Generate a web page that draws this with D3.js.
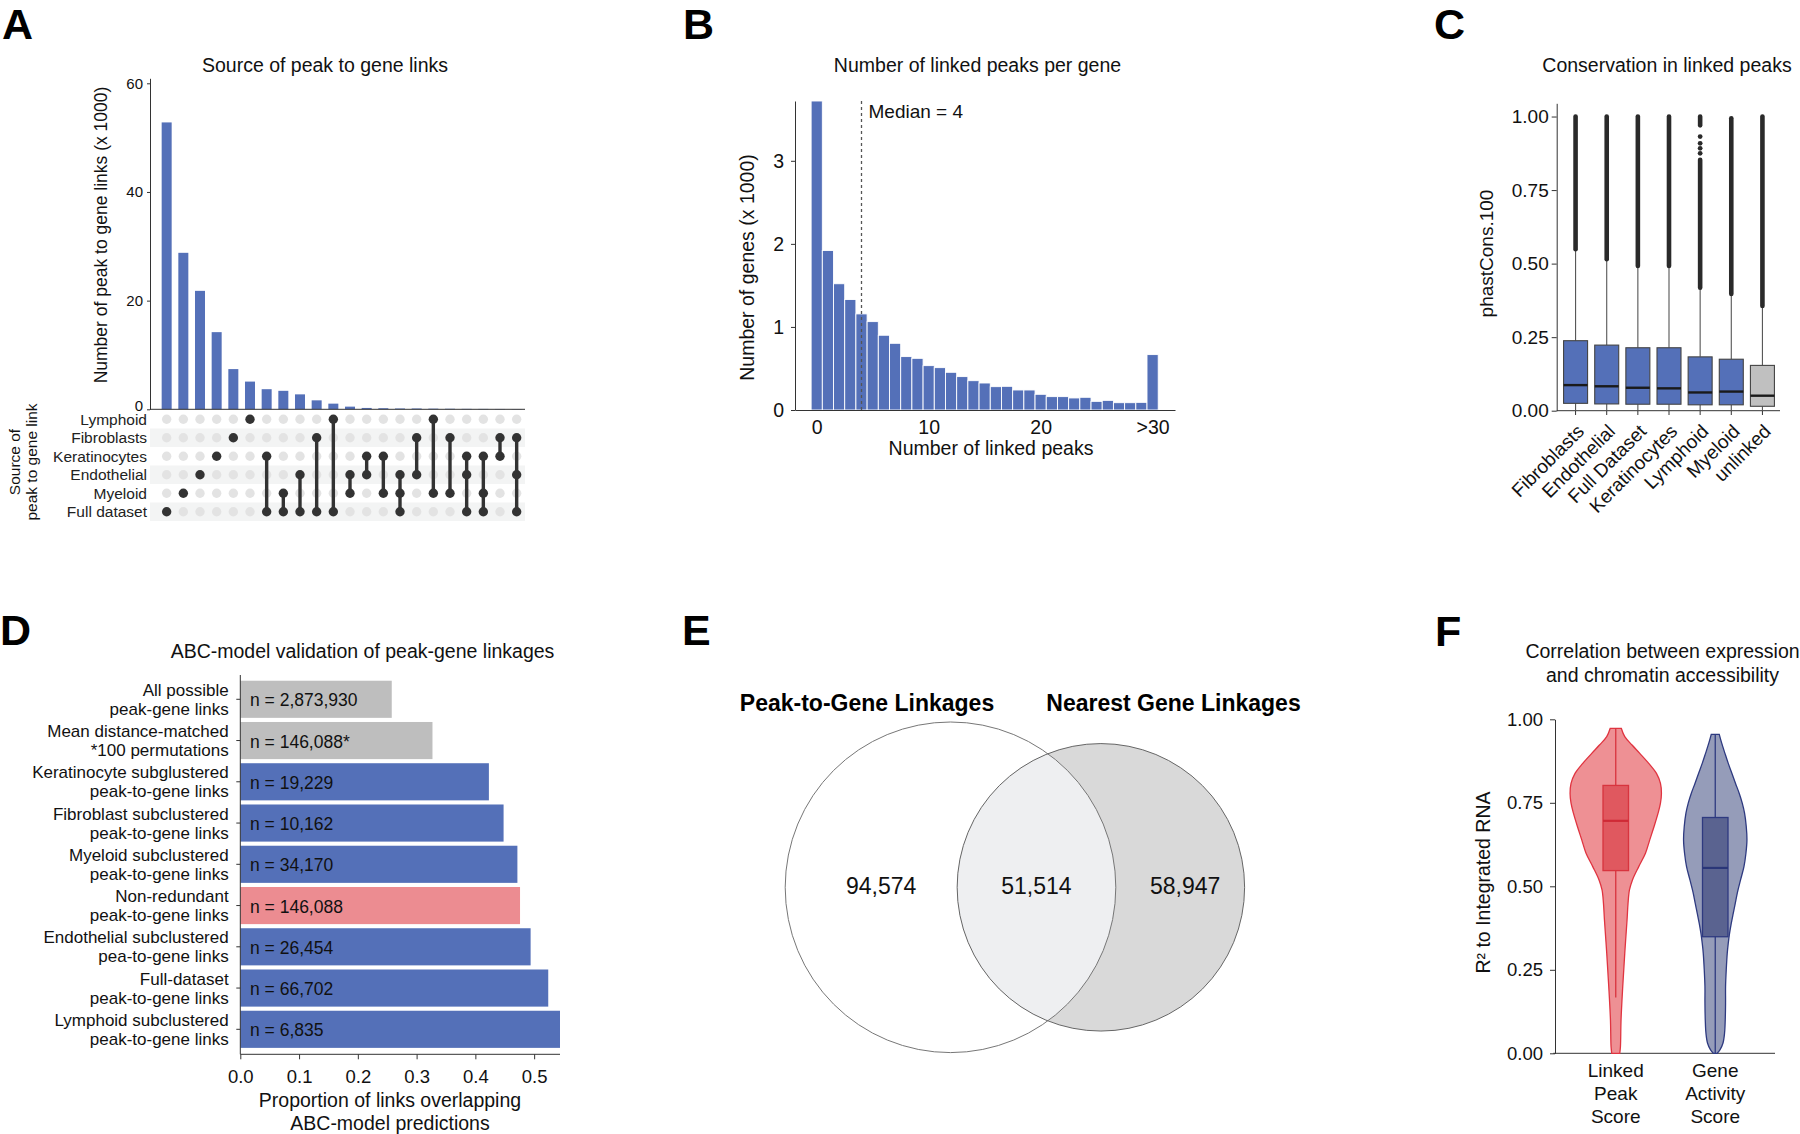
<!DOCTYPE html>
<html><head><meta charset="utf-8">
<script src="https://cdn.jsdelivr.net/npm/d3@7"></script>
<style>
body{margin:0;background:#fff;}
svg{display:block;font-family:"Liberation Sans",Arial,Helvetica,sans-serif;}
text{fill:#111;}
</style></head><body>
<svg id="fig" width="1800" height="1134"></svg>
<script>
// ================= DATA =================
// Panel A : UpSet
const upsetSets = ["Lymphoid","Fibroblasts","Keratinocytes","Endothelial","Myeloid","Full dataset"];
const upsetCounts = [52.8,28.8,21.8,14.2,7.4,5.1,3.7,3.4,2.75,1.65,1.04,0.49,0.25,0.2,0.15,0.15,0.12,0.1,0.08,0.07,0.06,0.05];
const upsetCombos = [
  ["Full dataset"],["Myeloid"],["Endothelial"],["Keratinocytes"],["Fibroblasts"],["Lymphoid"],
  ["Keratinocytes","Full dataset"],["Myeloid","Full dataset"],["Endothelial","Full dataset"],
  ["Fibroblasts","Full dataset"],["Lymphoid","Full dataset"],["Endothelial","Myeloid"],
  ["Keratinocytes","Endothelial"],["Keratinocytes","Myeloid"],["Endothelial","Myeloid","Full dataset"],
  ["Fibroblasts","Endothelial"],["Lymphoid","Myeloid"],["Fibroblasts","Myeloid"],
  ["Keratinocytes","Endothelial","Full dataset"],["Keratinocytes","Myeloid","Full dataset"],
  ["Fibroblasts","Keratinocytes"],["Fibroblasts","Endothelial","Full dataset"]
];
const upsetTicks = [0,20,40,60];

// Panel B : histogram
const peakBins   = [0,1,2,3,4,5,6,7,8,9,10,11,12,13,14,15,16,17,18,19,20,21,22,23,24,25,26,27,28,29,30];
const peakCounts = [3.72,1.92,1.52,1.33,1.157,1.064,0.90,0.803,0.643,0.622,0.534,0.51,0.454,0.402,0.353,0.325,0.281,0.285,0.241,0.241,0.189,0.161,0.161,0.145,0.153,0.104,0.116,0.088,0.088,0.092,0.667];
const peakTicks = [0,10,20,30];
const geneTicks = [0,1,2,3];
const medianPeaks = 4;

// Panel C : boxplots
const consGroups = ["Fibroblasts","Endothelial","Full Dataset","Keratinocytes","Lymphoid","Myeloid","unlinked"];
const consQ1     = [0.025,0.023,0.022,0.022,0.020,0.020,0.015];
const consMedian = [0.087,0.083,0.078,0.076,0.062,0.065,0.051];
const consQ3     = [0.238,0.223,0.214,0.214,0.183,0.175,0.154];
const consWhiskerLow  = [0,0,0,0,0,0,0];
const consWhiskerHigh = [0.549,0.515,0.492,0.492,0.418,0.397,0.356];
const consOutliers = [
  [[0.549,1.0]],
  [[0.515,1.0]],
  [[0.492,1.0]],
  [[0.492,1.0]],
  [[0.418,0.853],[0.875,0.875],[0.892,0.892],[0.909,0.909],[0.932,0.932],[0.97,1.0]],
  [[0.397,0.994]],
  [[0.356,1.0]]
];
const consTicks = [0,0.25,0.5,0.75,1.0];

// Panel D : horizontal bars
const abcLabels = [
  ["All possible","peak-gene links"],
  ["Mean distance-matched","*100 permutations"],
  ["Keratinocyte subglustered","peak-to-gene links"],
  ["Fibroblast subclustered","peak-to-gene links"],
  ["Myeloid subclustered","peak-to-gene links"],
  ["Non-redundant","peak-to-gene links"],
  ["Endothelial subclustered","pea-to-gene links"],
  ["Full-dataset","peak-to-gene links"],
  ["Lymphoid subclustered","peak-to-gene links"]
];
const abcValues = [0.2577,0.327,0.423,0.448,0.4715,0.476,0.494,0.524,0.544];
const abcN = ["n = 2,873,930","n = 146,088*","n = 19,229","n = 10,162","n = 34,170","n = 146,088","n = 26,454","n = 66,702","n = 6,835"];
const abcType = ["gray","gray","blue","blue","blue","pink","blue","blue","blue"];
const abcTicks = [0,0.1,0.2,0.3,0.4,0.5];

// Panel E : Venn
const vennNames = ["Peak-to-Gene Linkages","Nearest Gene Linkages"];
const vennOnlyLeft = 94574, vennBoth = 51514, vennOnlyRight = 58947;

// Panel F : violins
const violinGroups = [["Linked","Peak","Score"],["Gene","Activity","Score"]];
const violinRed = [[0.973,0.12],[0.948,0.196],[0.923,0.354],[0.898,0.522],[0.868,0.717],[0.838,0.885],[0.808,0.972],[0.778,0.993],[0.749,0.972],[0.719,0.92],[0.679,0.833],[0.639,0.739],[0.599,0.646],[0.559,0.5],[0.519,0.363],[0.489,0.298],[0.449,0.267],[0.40,0.246],[0.30,0.196],[0.20,0.152],[0.10,0.115],[0.02,0.102],[0.0,0.087]];
const violinBlue = [[0.955,0.087],[0.93,0.137],[0.898,0.211],[0.868,0.283],[0.838,0.363],[0.808,0.441],[0.778,0.522],[0.749,0.587],[0.719,0.637],[0.679,0.674],[0.639,0.689],[0.599,0.667],[0.559,0.624],[0.519,0.55],[0.479,0.478],[0.449,0.435],[0.419,0.391],[0.389,0.348],[0.359,0.311],[0.33,0.283],[0.30,0.261],[0.25,0.239],[0.20,0.224],[0.15,0.224],[0.10,0.217],[0.06,0.202],[0.03,0.167],[0.01,0.102],[0.0,0.043]];
const violinQ1 = [0.547,0.349];
const violinMedian = [0.696,0.555];
const violinQ3 = [0.802,0.706];
const violinWhiskerLow = [0.167,0.0];
const violinWhiskerHigh = [0.973,0.955];
const violinTicks = [0,0.25,0.5,0.75,1.0];

// ================= DRAWING =================
const BLUE = "#5470b8", GRAY = "#bebebe", PINK = "#ec8c91", AX = "#333";
const svg = d3.select("#fig");

function text(g, x, y, s, size, o = {}) {
  const t = g.append("text").attr("x", x).attr("y", y).text(s).style("font-size", size + "px");
  if (o.anchor) t.attr("text-anchor", o.anchor);
  if (o.base) t.attr("dominant-baseline", o.base);
  if (o.bold) t.style("font-weight", "bold");
  return t;
}
function mtext(g, x, y0, lines, dy, size, o = {}) {
  const t = g.append("text").style("font-size", size + "px");
  if (o.anchor) t.attr("text-anchor", o.anchor);
  if (o.base) t.attr("dominant-baseline", o.base);
  lines.forEach((l, k) => t.append("tspan").attr("x", x).attr("y", y0 + k * dy).text(l));
  return t;
}
function rotText(g, x, y, s, size) {
  return g.append("text").attr("transform", `translate(${x},${y}) rotate(-90)`)
    .attr("text-anchor", "middle").attr("dominant-baseline", "central")
    .style("font-size", size + "px").text(s);
}
function styleAxis(sel, size) {
  sel.selectAll("text").style("font-size", size + "px").attr("fill", "#111");
  sel.selectAll("line").attr("stroke", AX);
  sel.selectAll("path").attr("stroke", AX);
}
function hline(g, x1, x2, y) { g.append("line").attr("x1", x1).attr("x2", x2).attr("y1", y).attr("y2", y).attr("stroke", AX).attr("stroke-width", 1); }
function vline(g, x, y1, y2) { g.append("line").attr("x1", x).attr("x2", x).attr("y1", y1).attr("y2", y2).attr("stroke", AX).attr("stroke-width", 1); }

// panel letters
[["A",2,39],["B",683,39],["C",1434,39],["D",0,645],["E",682,645],["F",1435,646]].forEach(([l,x,y]) =>
  text(svg, x, y, l, 43, {bold: true}).style("fill", "#000"));

// ---------- Panel A ----------
{
  const g = svg.append("g");
  const xA = d3.scaleBand().domain(d3.range(upsetCounts.length)).range([158.33, 525]).paddingInner(0.4).paddingOuter(0.2);
  const yA = d3.scaleLinear().domain([0, 60.92]).range([409.3, 78.3]);
  const rA = d3.scaleBand().domain(upsetSets).range([410, 521]);
  const cx = i => xA(i) + xA.bandwidth() / 2;
  const cy = s => rA(s) + rA.bandwidth() / 2;

  g.selectAll("rect.bar").data(upsetCounts).join("rect")
    .attr("x", (d, i) => xA(i)).attr("width", xA.bandwidth())
    .attr("y", d => yA(d)).attr("height", d => yA(0) - yA(d)).attr("fill", BLUE);

  const ax = g.append("g").attr("transform", "translate(150,0)")
    .call(d3.axisLeft(yA).tickValues(upsetTicks).tickSize(3).tickSizeOuter(0).tickPadding(4).tickFormat(d3.format("d")));
  styleAxis(ax, 15);
  ax.selectAll(".tick text").filter(d => d === 0).attr("dy", "0.1em");
  hline(g, 150, 525, 409.3);

  upsetSets.forEach((s, j) => {
    if (j % 2 === 1) g.append("rect").attr("x", 150).attr("width", 375).attr("y", rA(s)).attr("height", rA.bandwidth()).attr("fill", "#f3f4f4");
  });
  upsetCombos.forEach((combo, i) => {
    upsetSets.forEach(s => {
      g.append("circle").attr("cx", cx(i)).attr("cy", cy(s)).attr("r", 4.7)
        .attr("fill", combo.includes(s) ? "#333" : "#e3e3e3");
    });
    if (combo.length > 1) {
      const ys = combo.map(cy);
      g.append("line").attr("x1", cx(i)).attr("x2", cx(i)).attr("y1", d3.min(ys)).attr("y2", d3.max(ys))
        .attr("stroke", "#333").attr("stroke-width", 3.4);
    }
  });
  upsetSets.forEach(s => text(g, 147, cy(s), s, 15.5, {anchor: "end", base: "central"}).style("fill", "#222"));

  text(g, 325, 72, "Source of peak to gene links", 19.5, {anchor: "middle"});
  rotText(g, 101, 235, "Number of peak to gene links (x 1000)", 17.5);
  const side = g.append("text").attr("transform", "translate(22.25,462) rotate(-90)")
    .attr("text-anchor", "middle").attr("dominant-baseline", "central").style("font-size", "15.5px");
  side.append("tspan").attr("x", 0).attr("y", -8.75).text("Source of");
  side.append("tspan").attr("x", 0).attr("y", 8.75).text("peak to gene link");
}

// ---------- Panel B ----------
{
  const g = svg.append("g");
  const xB = d3.scaleLinear().domain([-1.94, 32]).range([795, 1175]);
  const yB = d3.scaleLinear().domain([0, 3.72]).range([410, 101]);
  g.selectAll("rect").data(peakBins).join("rect")
    .attr("x", b => xB(b - 0.5)).attr("width", b => xB(b + 0.5) - xB(b - 0.5))
    .attr("y", (b, i) => yB(peakCounts[i])).attr("height", (b, i) => yB(0) - yB(peakCounts[i]))
    .attr("fill", BLUE).attr("stroke", "#fff").attr("stroke-width", 0.9);
  const ay = g.append("g").attr("transform", "translate(795,0)")
    .call(d3.axisLeft(yB).tickValues(geneTicks).tickSize(4).tickSizeOuter(0).tickPadding(7).tickFormat(d3.format("d")));
  styleAxis(ay, 19.5);
  const axb = g.append("g").attr("transform", "translate(0,410)")
    .call(d3.axisBottom(xB).tickValues(peakTicks).tickSize(0).tickSizeOuter(0).tickPadding(10)
      .tickFormat(d => d === 30 ? ">30" : d));
  styleAxis(axb, 19.5);
  g.append("line").attr("x1", xB(medianPeaks)).attr("x2", xB(medianPeaks)).attr("y1", 101).attr("y2", 410)
    .attr("stroke", "#555").attr("stroke-width", 1.3).attr("stroke-dasharray", "3,3");
  text(g, xB(medianPeaks) + 7, 117.5, "Median = " + medianPeaks, 19);
  text(g, 977.5, 72, "Number of linked peaks per gene", 19.5, {anchor: "middle"});
  text(g, 991, 455, "Number of linked peaks", 19.5, {anchor: "middle"});
  rotText(g, 746.5, 267.5, "Number of genes (x 1000)", 19.5);
}

// ---------- Panel C ----------
{
  const g = svg.append("g");
  const yC = d3.scaleLinear().domain([0, 1.045]).range([410.7, 103.3]);
  const xC = d3.scaleBand().domain(consGroups).range([1560, 1778]);
  const bw = 24;
  const ay = g.append("g").attr("transform", "translate(1556.7,0)")
    .call(d3.axisLeft(yC).tickValues(consTicks).tickSize(5).tickSizeOuter(0).tickPadding(3).tickFormat(d3.format(".2f")));
  styleAxis(ay, 19);
  hline(g, 1556.7, 1780, 410.7);
  consGroups.forEach((grp, i) => {
    const c = xC(grp) + xC.bandwidth() / 2;
    vline(g, c, 410.7, 415);
    g.append("line").attr("x1", c).attr("x2", c).attr("y1", yC(consQ3[i])).attr("y2", yC(consWhiskerHigh[i])).attr("stroke", "#555").attr("stroke-width", 1.1);
    g.append("line").attr("x1", c).attr("x2", c).attr("y1", yC(consQ1[i])).attr("y2", yC(consWhiskerLow[i])).attr("stroke", "#555").attr("stroke-width", 1.1);
    consOutliers[i].forEach(([lo, hi]) => {
      if (hi - lo < 0.002) {
        g.append("circle").attr("cx", c).attr("cy", yC(lo)).attr("r", 2.4).attr("fill", "#2a2a2a");
      } else {
        g.append("line").attr("x1", c).attr("x2", c).attr("y1", yC(lo)).attr("y2", yC(hi))
          .attr("stroke", "#2a2a2a").attr("stroke-width", 4.6).attr("stroke-linecap", "round");
      }
    });
    g.append("rect").attr("x", c - bw / 2).attr("width", bw).attr("y", yC(consQ3[i])).attr("height", yC(consQ1[i]) - yC(consQ3[i]))
      .attr("fill", grp === "unlinked" ? "#c0c0c0" : BLUE).attr("stroke", "#444").attr("stroke-width", 1.1);
    g.append("line").attr("x1", c - bw / 2).attr("x2", c + bw / 2).attr("y1", yC(consMedian[i])).attr("y2", yC(consMedian[i]))
      .attr("stroke", "#1a1a1a").attr("stroke-width", 2.4);
    g.append("text").attr("transform", `translate(${c + 5},${428}) rotate(-45)`)
      .attr("text-anchor", "end").attr("dominant-baseline", "central").style("font-size", "19px").text(grp);
  });
  text(g, 1667, 72, "Conservation in linked peaks", 19.5, {anchor: "middle"});
  rotText(g, 1486, 253.5, "phastCons.100", 19);
}

// ---------- Panel D ----------
{
  const g = svg.append("g");
  const xD = d3.scaleLinear().domain([0, 0.544]).range([240.3, 560]);
  const yD = d3.scaleBand().domain(d3.range(abcValues.length)).range([676.6, 1052]).paddingInner(0.1).paddingOuter(0.1);
  const col = {gray: GRAY, blue: BLUE, pink: PINK};
  abcValues.forEach((v, i) => {
    const y = yD(i), h = yD.bandwidth(), c = y + h / 2;
    g.append("rect").attr("x", xD(0)).attr("y", y).attr("width", xD(v) - xD(0)).attr("height", h).attr("fill", col[abcType[i]]);
    text(g, 250, c + 1, abcN[i], 17.5, {base: "central"});
    mtext(g, 228.7, c - 9.5, abcLabels[i], 19, 17, {anchor: "end", base: "central"});
    g.append("line").attr("x1", 236.3).attr("x2", 240.3).attr("y1", c).attr("y2", c).attr("stroke", AX);
  });
  vline(g, 240.3, 675, 1054.3);
  const axb = g.append("g").attr("transform", "translate(0,1054.3)")
    .call(d3.axisBottom(xD).tickValues(abcTicks).tickSize(5).tickSizeOuter(0).tickPadding(10.5).tickFormat(d3.format(".1f")));
  styleAxis(axb, 18.5);
  axb.select(".domain").remove();
  hline(g, 240.3, 560, 1054.3);
  text(g, 362.5, 658.3, "ABC-model validation of peak-gene linkages", 19.5, {anchor: "middle"});
  mtext(g, 390, 1107.3, ["Proportion of links overlapping", "ABC-model predictions"], 22.7, 19.5, {anchor: "middle"});
}

// ---------- Panel E ----------
{
  const g = svg.append("g");
  const leftTotal = vennOnlyLeft + vennBoth, rightTotal = vennOnlyRight + vennBoth;
  const rS = d3.scaleSqrt().domain([0, leftTotal]).range([0, 165.3]);
  const r1 = rS(leftTotal), r2 = rS(rightTotal);
  const lens = (d) => {
    const a1 = Math.acos(Math.max(-1, Math.min(1, (d*d + r1*r1 - r2*r2) / (2*d*r1))));
    const a2 = Math.acos(Math.max(-1, Math.min(1, (d*d + r2*r2 - r1*r1) / (2*d*r2))));
    const k = Math.sqrt(Math.max(0, (-d + r1 + r2) * (d + r1 - r2) * (d - r1 + r2) * (d + r1 + r2)));
    return r1*r1*a1 + r2*r2*a2 - 0.5*k;
  };
  const target = vennBoth / leftTotal * Math.PI * r1 * r1;
  let lo = Math.abs(r1 - r2) + 1e-6, hi = r1 + r2;
  for (let k = 0; k < 60; k++) { const m = (lo + hi) / 2; if (lens(m) > target) lo = m; else hi = m; }
  const dist = (lo + hi) / 2;
  const c1x = 950.5, cyE = 887.3, c2x = c1x + dist;
  svg.append("defs").append("clipPath").attr("id", "clipLeft").append("circle").attr("cx", c1x).attr("cy", cyE).attr("r", r1);
  g.append("circle").attr("cx", c2x).attr("cy", cyE).attr("r", r2).attr("fill", "#d9d9d9");
  g.append("circle").attr("cx", c2x).attr("cy", cyE).attr("r", r2).attr("fill", "#eeeff1").attr("clip-path", "url(#clipLeft)");
  g.append("circle").attr("cx", c1x).attr("cy", cyE).attr("r", r1).attr("fill", "none").attr("stroke", "#777").attr("stroke-width", 1);
  g.append("circle").attr("cx", c2x).attr("cy", cyE).attr("r", r2).attr("fill", "none").attr("stroke", "#666").attr("stroke-width", 1);
  const fmt = d3.format(",");
  const lx = (c1x - r1 + c2x - r2) / 2 + 10, mx = (c2x - r2 + c1x + r1) / 2, rx = (c1x + r1 + c2x + r2) / 2 + 5;
  text(g, lx, cyE - 1, fmt(vennOnlyLeft), 23, {anchor: "middle", base: "central"});
  text(g, mx, cyE - 1, fmt(vennBoth), 23, {anchor: "middle", base: "central"});
  text(g, rx, cyE - 1, fmt(vennOnlyRight), 23, {anchor: "middle", base: "central"});
  text(g, 867, 710.7, vennNames[0], 23, {anchor: "middle", bold: true}).style("fill", "#000");
  text(g, 1173.5, 710.7, vennNames[1], 23, {anchor: "middle", bold: true}).style("fill", "#000");
}

// ---------- Panel F ----------
{
  const g = svg.append("g");
  const yF = d3.scaleLinear().domain([0, 1]).range([1053.3, 719.3]);
  const xF = d3.scaleBand().domain(violinGroups.map(d => d.join(" "))).range([1566, 1765]);
  const wF = d3.scaleLinear().domain([0, 1]).range([0, 46]);
  const styles = [
    {fill: "#ee9094", stroke: "#e03440", box: "#e0585f", boxStroke: "#d8343e", med: "#cf2a36"},
    {fill: "#959cb9", stroke: "#2e3a80", box: "#5a6390", boxStroke: "#2e3a80", med: "#2a3678"}
  ];
  const dens = [violinRed, violinBlue];
  const ay = g.append("g").attr("transform", "translate(1555,0)")
    .call(d3.axisLeft(yF).tickValues(violinTicks).tickSize(5).tickSizeOuter(0).tickPadding(7).tickFormat(d3.format(".2f")));
  styleAxis(ay, 18.5);
  hline(g, 1553.3, 1775, 1053.3);
  violinGroups.forEach((lines, i) => {
    const c = xF(lines.join(" ")) + xF.bandwidth() / 2, st = styles[i];
    const area = d3.area().y(d => yF(d[0])).x0(d => c - wF(d[1])).x1(d => c + wF(d[1])).curve(d3.curveCatmullRom);
    g.append("path").attr("d", area(dens[i])).attr("fill", st.fill).attr("stroke", st.stroke).attr("stroke-width", 1.3);
    g.append("line").attr("x1", c).attr("x2", c).attr("y1", yF(violinWhiskerLow[i])).attr("y2", yF(violinWhiskerHigh[i]))
      .attr("stroke", st.boxStroke).attr("stroke-width", 1.3);
    const bw = 25.5;
    g.append("rect").attr("x", c - bw / 2).attr("width", bw).attr("y", yF(violinQ3[i])).attr("height", yF(violinQ1[i]) - yF(violinQ3[i]))
      .attr("fill", st.box).attr("stroke", st.boxStroke).attr("stroke-width", 1.3);
    g.append("line").attr("x1", c - bw / 2).attr("x2", c + bw / 2).attr("y1", yF(violinMedian[i])).attr("y2", yF(violinMedian[i]))
      .attr("stroke", st.med).attr("stroke-width", 2.2);
    mtext(g, c, 1076.7, lines, 23.3, 19, {anchor: "middle"});
  });
  mtext(g, 1662.5, 658.3, ["Correlation between expression", "and chromatin accessibility"], 23.4, 19.5, {anchor: "middle"});
  rotText(g, 1483.3, 882.5, "R\u00b2 to Integrated RNA", 19.5);
}
</script>
</body></html>
